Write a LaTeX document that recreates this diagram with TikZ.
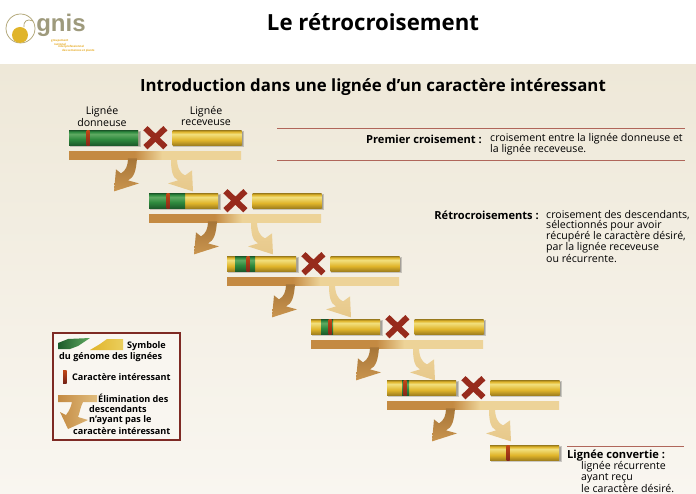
\documentclass[tikz,border=0pt]{standalone}
\usepackage{fontspec}
\setmainfont{Open Sans}
\newfontfamily\logofont{Liberation Sans}
\usetikzlibrary{positioning,calc,shapes.misc}
\definecolor{cadre}{HTML}{7E2A24}
\definecolor{filet}{HTML}{B0665A}
\definecolor{terre}{HTML}{C48A42}
\definecolor{sable}{HTML}{EDD398}
\definecolor{ocre}{HTML}{9E9A7C}
\definecolor{or}{HTML}{E0B42A}
\definecolor{orclair}{HTML}{F2E07E}
\definecolor{orfonce}{HTML}{A0801E}
\definecolor{vert}{HTML}{2E8A3E}
\definecolor{vertclair}{HTML}{5FAA62}
\definecolor{vertfonce}{HTML}{1C5A2A}
\definecolor{rouge}{HTML}{A8301F}
\definecolor{fond}{HTML}{EEE8D8}
\definecolor{fondbas}{HTML}{F9F6F0}
\pgfdeclareverticalshading{jaune}{100bp}{color(0bp)=(orfonce); color(25bp)=(orfonce); color(42bp)=(or); color(62bp)=(orclair); color(70bp)=(or); color(75bp)=(orfonce); color(100bp)=(orfonce)}
\pgfdeclareverticalshading{verte}{100bp}{color(0bp)=(vertfonce); color(25bp)=(vertfonce); color(45bp)=(vert); color(62bp)=(vertclair); color(70bp)=(vert); color(75bp)=(vertfonce); color(100bp)=(vertfonce)}
\pgfdeclarehorizontalshading{sol}{100bp}{color(0bp)=(terre); color(44bp)=(terre); color(52bp)=(sable); color(100bp)=(sable)}
\tikzset{
    lignee/.style={rectangle,inner sep=0pt,minimum width=69pt,minimum height=15pt,shading=jaune},
    bande/.style={rectangle,inner sep=0pt,minimum height=15pt,anchor=north west,shading=verte},
    repere/.style={rectangle,inner sep=0pt,minimum width=3pt,minimum height=15pt,anchor=north,top color=rouge!70!orange,bottom color=rouge!80!black},
    croix/.style={cross out,draw=rouge!90!black,line width=6pt,minimum width=14pt,minimum height=13pt,inner sep=0pt},
    barre/.style={rectangle,inner sep=0pt,minimum width=172pt,minimum height=8pt,anchor=north west,shading=sol},
    titre/.style={inner sep=0pt,font=\bfseries\fontsize{#1}{#1}\selectfont},
    corps/.style={inner sep=0pt,anchor=west,font=\fontsize{10.6}{10.6}\selectfont},
    gras/.style={inner sep=0pt,font=\bfseries\fontsize{11.1}{11.1}\selectfont},
    legende/.style={inner sep=0pt,anchor=west,font=\bfseries\fontsize{9.1}{9.1}\selectfont},
    logotexte/.style={inner sep=0pt,anchor=west,text=or!80!orange,font=\bfseries\fontsize{2.8}{2.8}\selectfont},
}
\begin{document}
\begin{tikzpicture}[x=1pt,y=-1pt]
    \useasboundingbox (0,0) rectangle (696,494);
    \fill[white] (0,0) rectangle (696,494);
    \shade[top color=fond,bottom color=fondbas] (0,65) rectangle (696,494);
    % logo
    \draw[ocre!80!or,line width=.7pt] (20.5,28.5) circle (14.5);
    \draw[ocre!80!or,line width=.7pt] (33,21) .. controls (27,18) and (23,22) .. (24,27);
    \fill[or] (20,35) circle (8);
    \node[inner sep=0pt,text=ocre,font=\logofont\bfseries\fontsize{24}{24}\selectfont] (gnis) at (61,25) {gnis};
    \node[logotexte] (logoa) at (51,41) {groupement};
    \node[logotexte] (logob) at (54,44) {national};
    \node[logotexte] (logoc) at (58,47) {interprofessionnel};
    \node[logotexte] (logod) at (62,50.500) {des semences et plants};
    % titres
    \node[titre=22.2] (titre) at (373,22) {Le rétrocroisement};
    \node[titre=16.8] (soustitre) at (373,87) {Introduction dans une lignée d’un caractère intéressant};
    \node[corps,anchor=center] (lga) at (102,112) {Lignée};
    \node[corps,anchor=center] (lgb) at (102,123) {donneuse};
    \node[corps,anchor=center] (lgc) at (206,112) {Lignée};
    \node[corps,anchor=center] (lgd) at (206,123) {receveuse};
    % les croisements
    \foreach \n/\x/\y/\xv/\wv/\xr in {1/69/130/69/69/88,2/149/193/149/36/168,3/227/256/235/20/248,4/311/319/321/12/330,5/387/380/402/7/405}
    {
        \fill[black,opacity=.18] (\x+1,\y+1) rectangle (\x+72,\y+17);
        \fill[black,opacity=.18] (\x+2,\y+2) rectangle (\x+71,\y+16);
        \fill[black,opacity=.18] (\x+104,\y+1) rectangle (\x+175,\y+17);
        \fill[black,opacity=.18] (\x+105,\y+2) rectangle (\x+174,\y+16);
        \node[lignee,anchor=north west] (gauche\n) at (\x,\y) {};
        \node[lignee,right=34pt of gauche\n] (droite\n) {};
        \node[bande,minimum width=\wv pt] (vert\n) at (\xv,\y) {};
        \node[repere] (carac\n) at (\xr,\y) {};
        \node[croix] (croix\n) at ($(gauche\n.east)!.5!(droite\n.west)$) {};
        \node[barre] (barre\n) at (\x,\y+21) {};
        \begin{scope}[shift={(barre\n.south west)}]
            \shade[top color=terre!85!black,bottom color=terre!85!sable] (59,-1) .. controls (59,6) and (57,11) .. (52,14) -- (47,10) -- (45,32) -- (70,24) -- (59,21) .. controls (65,18) and (67,12) .. (68,-1) -- cycle;
            \shade[top color=sable,bottom color=sable!85!terre] (102,-1) .. controls (102,10) and (103,18) .. (109,21) -- (99,24) -- (124,32) -- (123,11) -- (116,16) .. controls (111,14) and (108,8) .. (108,-1) -- cycle;
        \end{scope}
    }
    % ligne convertie
    \fill[black,opacity=.18] (491,446) rectangle (562,462);
    \fill[black,opacity=.18] (492,447) rectangle (561,461);
    \node[lignee,anchor=north west] (convertie) at (490,445) {};
    \node[repere] (caracf) at (508,445) {};
    % textes de droite
    \draw[filet,line width=1pt] (277,129) -- (685,129);
    \draw[filet,line width=1pt] (277,161) -- (685,161);
    \draw[filet,line width=1pt] (567,446) -- (684,446);
    \node[gras,anchor=east] (premier) at (482,139) {Premier croisement :};
    \node[corps] (pa) at (490,139) {croisement entre la lignée donneuse et};
    \node[corps] (pb) at (490,150) {la lignée receveuse.};
    \node[gras,anchor=east] (retro) at (539,215) {Rétrocroisements :};
    \foreach \n/\y/\t in {a/215/{croisement des descendants,},b/226/{sélectionnés pour avoir},c/237/{récupéré le caractère désiré,},d/248/{par la lignée receveuse},e/259/{ou récurrente.}}
    {
        \node[corps] (r\n) at (546,\y) {\t};
    }
    \node[gras,anchor=west] (conv) at (567,456) {Lignée convertie :};
    \node[corps] (ca) at (581,467) {lignée récurrente};
    \node[corps] (cb) at (581,478) {ayant reçu};
    \node[corps] (cc) at (581,488.500) {le caractère désiré.};
    % legende
    \draw[cadre,line width=1.5pt,fill=fondbas] (53,333) rectangle (180,440);
    \shade[left color=vertfonce,right color=vertclair] (58,349) -- (58,343) -- (68,339) -- (90,338) -- (78,346) -- (70,349) -- cycle;
    \shade[left color=or,right color=orclair!60!or] (90,350) -- (100,344) -- (107,339) -- (123,339) -- (123,350) -- cycle;
    \shade[top color=rouge!70!orange,bottom color=rouge!70!black] (63,370) rectangle (66.500,383);
    \shade[left color=terre,right color=sable!70!terre] (58,395) -- (97,395) -- (97,402) -- (83,402) .. controls (80,408) and (80,412) .. (78,417) -- (88,420) -- (68,429) -- (60,412) -- (66,415) .. controls (70,410) and (71,406) .. (72,402) -- (58,402) -- cycle;
    \node[legende] (sa) at (127,346) {Symbole};
    \node[legende] (sb) at (59,357.500) {du génome des lignées};
    \node[legende] (sc) at (72,377) {Caractère intéressant};
    \node[legende] (sd) at (98,398) {Élimination des};
    \node[legende] (se) at (89,409) {descendants};
    \node[legende] (sf) at (89,420) {n’ayant pas le};
    \node[legende] (sg) at (73,431) {caractère intéressant};
\end{tikzpicture}
\end{document}
